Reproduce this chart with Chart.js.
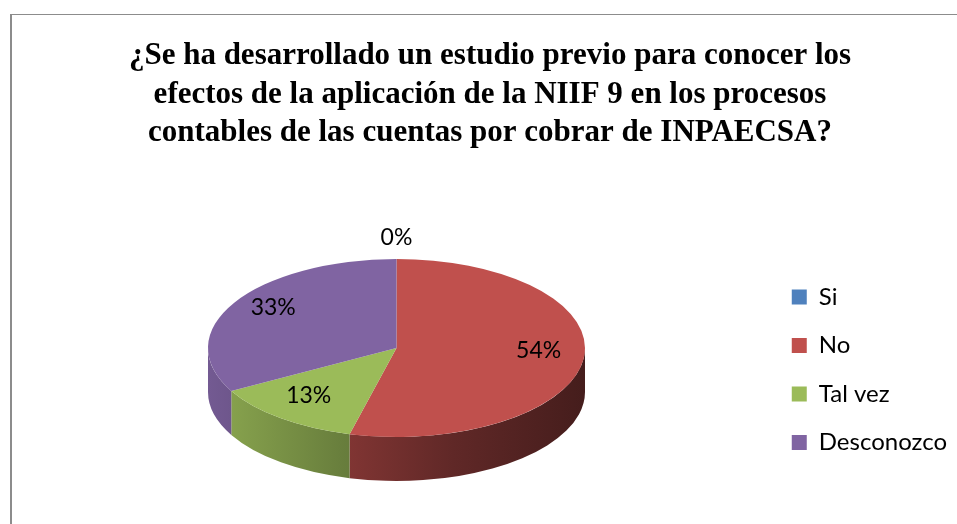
<!DOCTYPE html>
<html>
<head>
<meta charset="utf-8">
<script src="https://cdn.jsdelivr.net/npm/chart.js@4.4.1/dist/chart.umd.min.js"></script>
<style>
  html, body { margin: 0; padding: 0; background: #fff; }
  #wrap { width: 957px; height: 524px; }
</style>
</head>
<body>
<div id="wrap"><canvas id="pieChart" width="957" height="524"></canvas></div>
<script>
const categories = ['Si', 'No', 'Tal vez', 'Desconozco'];
const answers = [0, 54, 13, 33];
const sliceColors = ['#4F81BD', '#C0504D', '#9BBB59', '#8064A2'];
const titleLines = [
    '¿Se ha desarrollado un estudio previo para conocer los',
    'efectos de la aplicación de la NIIF 9 en los procesos',
    'contables de las cuentas por cobrar de INPAECSA?'
];

// look of the tilted pie
const pieCenter = { x: 396.5, y: 348 };
const tilt = 89 / 188.5;
const depth = 44;

function shade(hex, f) {
    const n = parseInt(hex.slice(1), 16);
    const r = Math.round(((n >> 16) & 255) * f);
    const g = Math.round(((n >> 8) & 255) * f);
    const b = Math.round((n & 255) * f);
    return `rgb(${r},${g},${b})`;
}

const framePlugin = {
    id: 'frame',
    beforeDraw(chart) {
        const ctx = chart.ctx;
        ctx.save();
        ctx.fillStyle = '#fff';
        ctx.fillRect(0, 0, chart.width, chart.height);
        ctx.strokeStyle = '#8c8c8c';
        ctx.lineWidth = 2;
        ctx.beginPath();
        ctx.moveTo(11, chart.height + 5);
        ctx.lineTo(11, 14.5);
        ctx.stroke();
        ctx.lineWidth = 1;
        ctx.beginPath();
        ctx.moveTo(10, 14.5);
        ctx.lineTo(chart.width + 5, 14.5);
        ctx.stroke();
        ctx.restore();
    }
};

const tiltPlugin = {
    id: 'tilt',
    beforeDatasetsDraw(chart) {
        const ctx = chart.ctx;
        const arcs = chart.getDatasetMeta(0).data;
        const colors = chart.data.datasets[0].backgroundColor;
        ctx.save();
        // side walls, only the front half (canvas angles 0..PI) shows
        arcs.forEach((arc, i) => {
            const R = arc.outerRadius;
            const X = pieCenter.x, Y = pieCenter.y;
            let s = arc.startAngle, e = arc.endAngle;
            if (e - s <= 0) return;
            for (let k = -1; k <= 1; k++) {
                const a1 = Math.max(s, k * 2 * Math.PI);
                const a2 = Math.min(e, k * 2 * Math.PI + Math.PI);
                if (a2 <= a1) continue;
                const grad = ctx.createLinearGradient(X - R, 0, X + R, 0);
                grad.addColorStop(0, shade(colors[i], 0.9));
                grad.addColorStop(0.35, shade(colors[i], 0.68));
                grad.addColorStop(0.65, shade(colors[i], 0.5));
                grad.addColorStop(1, shade(colors[i], 0.36));
                ctx.beginPath();
                ctx.ellipse(X, Y, R, R * tilt, 0, a1, a2, false);
                ctx.ellipse(X, Y + depth, R, R * tilt, 0, a2, a1, true);
                ctx.closePath();
                ctx.fillStyle = grad;
                ctx.fill();
            }
        });
        const first = arcs[0];
        ctx.translate(pieCenter.x, pieCenter.y);
        ctx.scale(1, tilt);
        ctx.translate(-first.x, -first.y);
    },
    afterDatasetsDraw(chart) {
        const ctx = chart.ctx;
        ctx.restore();
        const arcs = chart.getDatasetMeta(0).data;
        const values = chart.data.datasets[0].data;
        const total = values.reduce((a, b) => a + b, 0);
        ctx.save();
        ctx.font = '23px Lato, "Open Sans", sans-serif';
        ctx.fillStyle = '#000';
        ctx.textAlign = 'center';
        ctx.textBaseline = 'middle';
        arcs.forEach((arc, i) => {
            const R = arc.outerRadius;
            const mid = (arc.startAngle + arc.endAngle) / 2;
            const pct = Math.round(values[i] / total * 100) + '%';
            let x, y;
            if (values[i] === 0) {
                x = pieCenter.x + R * Math.cos(mid);
                y = pieCenter.y + (R * tilt + 15) * Math.sin(mid);
            } else {
                x = pieCenter.x + 0.76 * R * Math.cos(mid);
                y = pieCenter.y + 0.76 * R * tilt * Math.sin(mid);
            }
            ctx.fillText(pct, x, y - 6);
        });
        ctx.restore();
    }
};

const ctx = document.getElementById('pieChart').getContext('2d');
const chart = new Chart(ctx, {
    type: 'pie',
    data: {
        labels: categories,
        datasets: [{
            data: answers,
            backgroundColor: sliceColors,
            borderWidth: 0,
            clip: false
        }]
    },
    options: {
        responsive: false,
        animation: false,
        radius: 188.5,
        layout: { padding: { left: 23, right: 0 } },
        plugins: {
            title: {
                display: true,
                text: titleLines,
                color: '#000',
                font: { family: '"Liberation Serif", "Times New Roman", serif', size: 31, weight: 'bold', lineHeight: 1.24 },
                padding: { top: 37, bottom: 63 }
            },
            legend: {
                position: 'right',
                align: 'center',
                fullSize: false,
                labels: {
                    boxWidth: 15,
                    boxHeight: 15,
                    padding: 24.5,
                    color: '#000',
                    font: { family: 'Lato, "Open Sans", sans-serif', size: 24 }
                }
            },
            tooltip: { enabled: false }
        }
    },
    plugins: [framePlugin, tiltPlugin]
});
</script>
</body>
</html>
